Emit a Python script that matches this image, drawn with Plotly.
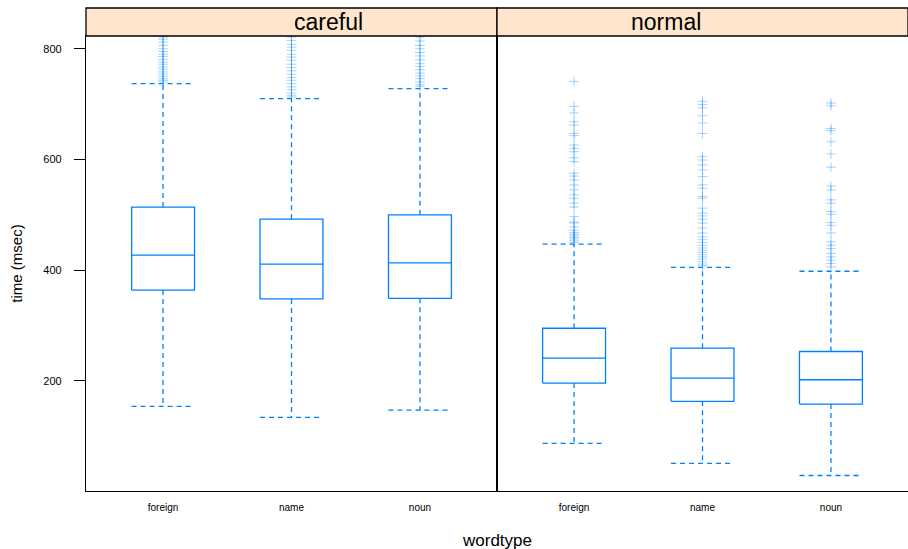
import plotly.graph_objects as go

panels = ["careful", "normal"]
categories = ["foreign", "name", "noun"]

# box stats per panel: lists over categories
lower_whisker = {"careful": [154, 134, 147], "normal": [87, 51, 29]}
q1 = {"careful": [364, 348, 349], "normal": [196, 163, 158]}
median = {"careful": [427, 411, 413], "normal": [241, 205, 202]}
q3 = {"careful": [514, 492, 500], "normal": [295, 259, 253]}
upper_whisker = {"careful": [737, 710, 728], "normal": [447, 405, 398]}

outliers = {
    "careful": [
        [821, 817, 812, 806, 800, 795, 790, 786, 781, 776, 772, 767, 763, 758, 754, 750, 746, 743, 740],
        [821, 815, 808, 803, 797, 790, 785, 779, 772, 766, 760, 754, 748, 743, 737, 731, 726, 720, 716, 713],
        [821, 814, 806, 800, 793, 787, 780, 773, 768, 762, 756, 751, 746, 740, 735, 732],
    ],
    "normal": [
        [741, 696, 684, 668, 662, 647, 643, 626, 620, 614, 603, 596, 575, 570, 563, 554, 545, 536, 530,
         521, 514, 497, 487, 485, 478, 472, 468, 465, 462, 459, 456, 453, 450],
        [705, 699, 693, 679, 666, 647, 605, 599, 590, 581, 569, 554, 548, 533, 530, 512, 503, 498, 492,
         485, 476, 467, 460, 455, 450, 445, 440, 436, 432, 428, 424, 420, 415, 411, 408],
        [702, 697, 656, 652, 632, 610, 586, 552, 545, 527, 521, 506, 501, 486, 481, 467, 451, 445, 439,
         430, 424, 418, 412, 406],
    ],
}

BLUE = "#0080FF"
OUT = "rgba(0,128,255,0.35)"
HALF = 0.245
fig = go.Figure()

for pi, panel in enumerate(panels):
    xa = "x" if pi == 0 else "x2"
    ya = "y" if pi == 0 else "y2"
    for ci, cat in enumerate(categories):
        p = ci + 1
        lw, a, m, b, uw = (lower_whisker[panel][ci], q1[panel][ci], median[panel][ci],
                           q3[panel][ci], upper_whisker[panel][ci])
        # box rectangle + median
        fig.add_trace(go.Scatter(
            x=[p - HALF, p + HALF, p + HALF, p - HALF, p - HALF, None, p - HALF, p + HALF],
            y=[a, a, b, b, a, None, m, m],
            mode="lines", line=dict(color=BLUE, width=1.3),
            xaxis=xa, yaxis=ya, showlegend=False, hoverinfo="skip"))
        # whiskers (dashed)
        fig.add_trace(go.Scatter(
            x=[p, p, None, p, p, None, p - HALF, p + HALF, None, p - HALF, p + HALF],
            y=[b, uw, None, a, lw, None, uw, uw, None, lw, lw],
            mode="lines", line=dict(color=BLUE, width=1.3, dash="5px,4px"),
            xaxis=xa, yaxis=ya, showlegend=False, hoverinfo="skip"))
        # outliers
        vals = outliers[panel][ci]
        fig.add_trace(go.Scatter(
            x=[p] * len(vals), y=vals, mode="markers",
            marker=dict(symbol="cross-thin-open", size=7, color=OUT,
                        line=dict(color=OUT, width=1)),
            xaxis=xa, yaxis=ya, showlegend=False, hoverinfo="skip", cliponaxis=True))

FONT = "Liberation Sans, Arial, sans-serif"
xcommon = dict(range=[0.4, 3.6], tickvals=[1, 2, 3], ticktext=categories,
               showline=True, mirror=True, linecolor="black", linewidth=1.3,
               showgrid=False, zeroline=False, ticks="outside", ticklen=7,
               tickcolor="rgba(0,0,0,0)", tickfont=dict(size=10, family=FONT, color="black"))
ycommon = dict(range=[1, 823], tickvals=[200, 400, 600, 800], showgrid=False, zeroline=False,
               showline=True, mirror=True, linecolor="black", linewidth=1.3)

fig.update_layout(
    width=908, height=549,
    margin=dict(l=86, r=0, t=36, b=58),
    plot_bgcolor="white", paper_bgcolor="white",
    font=dict(family=FONT, color="black"),
    xaxis=dict(domain=[0, 0.5], anchor="y", **xcommon),
    xaxis2=dict(domain=[0.5, 1], anchor="y2", **xcommon),
    yaxis=dict(anchor="x", ticks="outside", ticklen=11, tickcolor="black", tickwidth=1.3,
               ticklabelstandoff=10,
               tickfont=dict(size=11, family=FONT, color="black"),
               title=dict(text="time (msec)", font=dict(size=15, family=FONT), standoff=17),
               **ycommon),
    yaxis2=dict(anchor="x2", matches="y", showticklabels=False, ticks="", **ycommon),
)

strip_h = 28 / 455
for pi, panel in enumerate(panels):
    x0, x1 = (0, 0.5) if pi == 0 else (0.5, 1)
    fig.add_shape(type="rect", xref="paper", yref="paper", x0=x0, x1=x1, y0=1, y1=1 + strip_h,
                  fillcolor="#FFE5CC", line=dict(color="black", width=1.3), layer="above")
    fig.add_annotation(x=(x0 + x1) / 2, y=1 + strip_h / 2, xref="paper", yref="paper",
                       text=panel, showarrow=False, font=dict(size=23, family=FONT, color="black"),
                       yanchor="middle")

fig.add_annotation(x=0.5, y=0, xref="paper", yref="paper", yshift=-49, text="wordtype",
                   showarrow=False, font=dict(size=17, family=FONT, color="black"), yanchor="middle")

fig.write_html("out.html")
